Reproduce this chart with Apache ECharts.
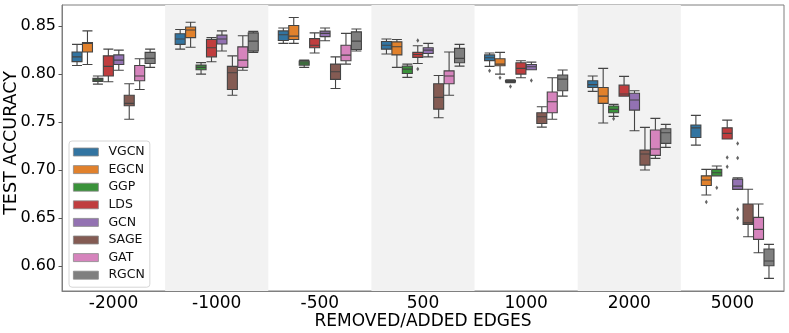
<!DOCTYPE html>
<html>
<head>
    <meta charset="UTF-8">
    <title>Test accuracy vs removed/added edges</title>
    <script src="https://cdn.jsdelivr.net/npm/echarts@6/dist/echarts.min.js"></script>
    <style>
        html, body { margin: 0; padding: 0; background: #fff; }
        #container { width: 789px; height: 333px; }
    </style>
</head>
<body>
    <div id="container"></div>
    <script type="text/javascript">
        // categories on the x axis
        var edges = ['-2000', '-1000', '-500', '500', '1000', '2000', '5000'];
        var models = ['VGCN', 'EGCN', 'GGP', 'LDS', 'GCN', 'SAGE', 'GAT', 'RGCN'];

        // [min, q1, median, q3, max] per category
        var vgcn = [[0.809, 0.813, 0.818, 0.823, 0.831], [0.826, 0.831, 0.8365, 0.842, 0.8465], [0.832, 0.835, 0.841, 0.845, 0.848],
            [0.821, 0.826, 0.830, 0.834, 0.8365], [0.808, 0.814, 0.817, 0.820, 0.822], [0.782, 0.786, 0.789, 0.793, 0.798], [0.726, 0.734, 0.744, 0.747, 0.757]];
        var egcn = [[0.810, 0.823, 0.832, 0.833, 0.845], [0.828, 0.838, 0.846, 0.849, 0.854], [0.832, 0.836, 0.8396, 0.8507, 0.859],
            [0.807, 0.820, 0.8285, 0.8336, 0.836], [0.800, 0.8087, 0.8104, 0.816, 0.8226], [0.749, 0.7695, 0.777, 0.786, 0.806], [0.674, 0.684, 0.6896, 0.694, 0.7007]];
        var ggp = [[0.7896, 0.7924, 0.794, 0.7955, 0.798], [0.800, 0.8045, 0.807, 0.8094, 0.812], [0.807, 0.8094, 0.8115, 0.8135, 0.8146],
            [0.7966, 0.8007, 0.8052, 0.8083, 0.8104], [0.791, 0.7917, 0.7927, 0.7934, 0.794], [0.756, 0.7597, 0.7632, 0.7667, 0.7685], [0.694, 0.694, 0.6972, 0.7007, 0.7042]];
        var lds = [[0.792, 0.798, 0.808, 0.819, 0.826], [0.8128, 0.818, 0.8274, 0.836, 0.838], [0.822, 0.8274, 0.830, 0.837, 0.843],
            [0.811, 0.8174, 0.8205, 0.8226, 0.8295], [0.7962, 0.800, 0.806, 0.8118, 0.8139], [0.777, 0.7771, 0.7792, 0.7885, 0.7976], [0.7323, 0.7323, 0.7382, 0.744, 0.752]];
        var gcn = [[0.804, 0.810, 0.8146, 0.820, 0.825], [0.824, 0.8313, 0.8365, 0.8406, 0.845], [0.8347, 0.839, 0.8424, 0.8448, 0.848],
            [0.818, 0.8215, 0.825, 0.8274, 0.832], [0.8045, 0.8045, 0.8076, 0.810, 0.8125], [0.741, 0.7625, 0.773, 0.780, 0.7826], [0.6799, 0.6799, 0.6833, 0.6906, 0.692]];
        var sage = [[0.753, 0.767, 0.7695, 0.778, 0.790], [0.778, 0.784, 0.8014, 0.808, 0.819], [0.785, 0.7945, 0.8024, 0.8104, 0.818],
            [0.7545, 0.7635, 0.7757, 0.790, 0.7986], [0.7448, 0.7486, 0.7555, 0.7597, 0.766], [0.700, 0.7052, 0.7167, 0.7208, 0.7445], [0.6305, 0.6434, 0.6451, 0.6646, 0.680]];
        var gat = [[0.784, 0.793, 0.798, 0.809, 0.816], [0.804, 0.807, 0.8146, 0.8284, 0.840], [0.8104, 0.8139, 0.8198, 0.830, 0.8424],
            [0.778, 0.790, 0.798, 0.8034, 0.823], [0.753, 0.7597, 0.7712, 0.7813, 0.7962], [0.7122, 0.7153, 0.7219, 0.7417, 0.7539], [0.6139, 0.6278, 0.6382, 0.6507, 0.6646]];
        var rgcn = [[0.807, 0.811, 0.8164, 0.8226, 0.826], [0.8226, 0.824, 0.8344, 0.843, 0.8445], [0.824, 0.8257, 0.8344, 0.844, 0.847],
            [0.8083, 0.8118, 0.8164, 0.8268, 0.831], [0.7771, 0.7826, 0.7948, 0.799, 0.8042], [0.7236, 0.7278, 0.7389, 0.743, 0.7476], [0.5872, 0.6003, 0.6052, 0.6177, 0.6226]];

        // outliers: [category index, model index, value]
        var outliers = [
            [3, 3, 0.835], [3, 3, 0.8052],
            [4, 0, 0.8034], [4, 1, 0.7962], [4, 2, 0.7872], [4, 4, 0.7934],
            [5, 2, 0.7535],
            [6, 1, 0.6667], [6, 2, 0.6816], [6, 3, 0.7132], [6, 3, 0.7035],
            [6, 4, 0.7278], [6, 4, 0.7125], [6, 4, 0.659], [6, 4, 0.650]
        ];

        var colors = ['#3274a1', '#e1812c', '#3a923a', '#c03d3e', '#9372b2', '#845b53', '#d684bd', '#7f7f7f'];
        var boxes = [vgcn, egcn, ggp, lds, gcn, sage, gat, rgcn];

        var font = 'DejaVu Sans';
        var lineColor = '#444';

        var series = [];
        models.forEach(function (name, i) {
            series.push({
                name: name,
                type: 'boxplot',
                xAxisIndex: 0,
                boxWidth: [10, 10],
                data: boxes[i],
                itemStyle: { color: colors[i], borderColor: lineColor, borderWidth: 1.1 },
                emphasis: { disabled: true },
                z: 3
            });
        });

        // outlier dots, placed next to their box via a hidden value axis
        var step = 0.1013;
        series.push({
            type: 'scatter',
            xAxisIndex: 1,
            symbol: 'diamond',
            symbolSize: [3, 4.5],
            itemStyle: { color: '#3d3d3d' },
            silent: true,
            z: 4,
            data: outliers.map(function (o) { return [o[0] + (o[1] - 3.5) * step, o[2]]; })
        });

        var option = {
            animation: false,
            color: colors,
            textStyle: { fontFamily: font },
            grid: {
                left: 62, right: 5, top: 5, bottom: 42,
                outerBoundsMode: 'none',
                containLabel: false,
                show: true, borderColor: '#7f7f7f', borderWidth: 1, backgroundColor: 'transparent'
            },
            legend: {
                data: models.map(function (m, i) {
                    return { name: m, itemStyle: { color: colors[i], borderColor: '#8a8a8a', borderWidth: 0.8 } };
                }),
                orient: 'vertical',
                left: 69,
                top: 141,
                icon: 'rect',
                itemWidth: 25,
                itemHeight: 8,
                itemGap: 3.6,
                padding: [4, 5, 5, 4],
                backgroundColor: 'rgba(255,255,255,0.85)',
                borderColor: '#d6d6d6',
                borderWidth: 1,
                borderRadius: 3,
                textStyle: { fontFamily: font, fontSize: 12.5, color: '#111', lineHeight: 14, padding: [0, 0, 0, 5] },
                z: 10
            },
            xAxis: [{
                type: 'category',
                data: edges,
                name: 'REMOVED/ADDED EDGES',
                nameLocation: 'middle',
                nameGap: 22,
                nameMoveOverlap: false,
                nameTextStyle: { fontFamily: font, fontSize: 17, color: '#000', verticalAlign: 'top' },
                axisLine: { lineStyle: { color: '#7f7f7f' } },
                axisTick: { alignWithLabel: true, length: 3.5, lineStyle: { color: '#555' } },
                axisLabel: { fontFamily: font, fontSize: 17, color: '#000', margin: 4, interval: 0 },
                splitLine: { show: false },
                splitArea: { show: true, interval: 0, areaStyle: { color: ['rgba(255,255,255,0)', '#f2f2f2'] } }
            }, {
                type: 'value',
                min: -0.5,
                max: 6.5,
                show: false
            }],
            yAxis: {
                type: 'value',
                min: 0.574,
                max: 0.872,
                name: 'TEST ACCURACY',
                nameLocation: 'middle',
                nameGap: 42,
                nameMoveOverlap: false,
                nameTextStyle: { fontFamily: font, fontSize: 17.5, color: '#000', padding: [0, 0, 0, 10] },
                axisLine: { show: true, onZero: false, lineStyle: { color: '#7f7f7f' } },
                axisTick: { show: true, length: 3.5, lineStyle: { color: '#555' } },
                axisLabel: {
                    fontFamily: font, fontSize: 16, color: '#000', margin: 6,
                    showMinLabel: false, showMaxLabel: false,
                    formatter: function (v) { return v.toFixed(2); }
                },
                splitLine: { show: false }
            },
            series: series
        };

        var myChart = echarts.init(document.getElementById('container'));
        myChart.setOption(option);
    </script>
</body>
</html>
